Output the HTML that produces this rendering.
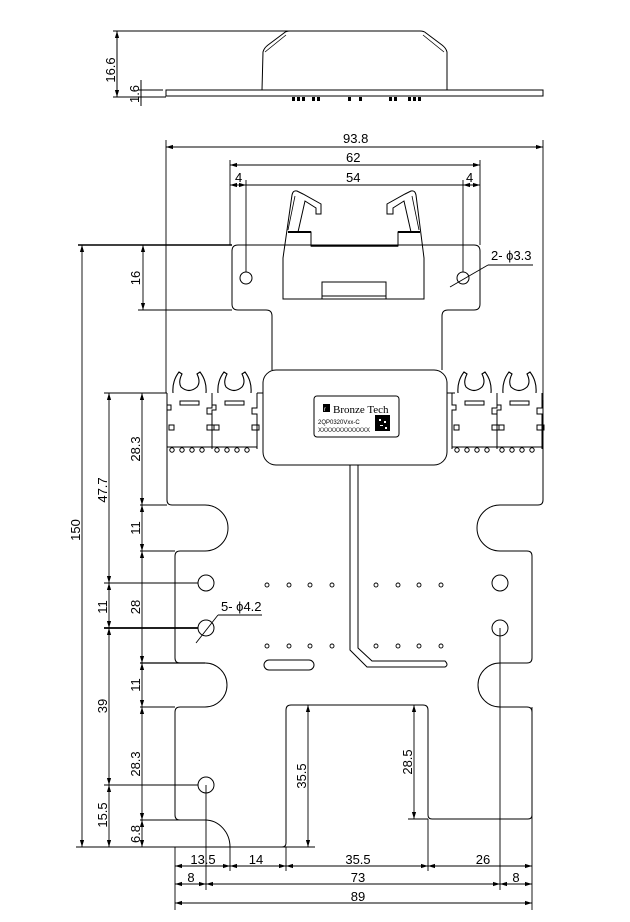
<!DOCTYPE html>
<html><head><meta charset="utf-8"><style>
html,body{margin:0;padding:0;background:#fff;}
svg{display:block;}
text{font-family:"Liberation Sans",Arial,sans-serif;font-size:13px;fill:#000;}
</style></head><body>
<svg width="630" height="922" viewBox="0 0 630 922" xmlns="http://www.w3.org/2000/svg">
<defs>
<marker id="a" viewBox="0 0 10 10" refX="10" refY="5" markerWidth="7" markerHeight="7" orient="auto-start-reverse" markerUnits="userSpaceOnUse"><path d="M0,2 L10,5 L0,8z" fill="#000"/></marker>
<g id="cu" fill="none" stroke="#000" stroke-width="1">
<path d="M6,393 Q5,381 12,372 L15,374 Q11,382 14,387 Q22,394 30,387 Q34,382 30,374 L33,372 Q40,381 39,393" stroke-width="1.1"/>
<rect x="13" y="401" width="19" height="4"/>
<path d="M0,393 V405 H4 V410 H0 V449"/>
<path d="M45,393 V408 H40 V414 H45 V449"/>
<rect x="2" y="425" width="5" height="5"/>
<rect x="40" y="425" width="7" height="5"/>
<line x1="0" y1="447" x2="45" y2="447"/>
<circle cx="5" cy="450" r="2.2"/><circle cx="15" cy="450" r="2.2"/><circle cx="25" cy="450" r="2.2"/><circle cx="35" cy="450" r="2.2"/>
</g>
</defs>

<g fill="none" stroke="#000" stroke-width="1">
<!-- ===== TOP SIDE VIEW ===== -->
<rect x="166" y="90" width="377" height="6"/>
<path d="M262,90 L263,52 Q264,48 268,45 L284,33 Q286,31 290,31 L420,31 Q424,31 426,33 L442,45 Q446,48 447,52 L447,90"/>
<path d="M265,52 L286,35 M444,52 L423,35" stroke-width="0.8"/>
<line x1="113" y1="31" x2="290" y2="31"/>
<line x1="113" y1="97" x2="166" y2="97"/>
<line x1="138" y1="90" x2="163" y2="90"/>
<line x1="117" y1="31" x2="117" y2="97" marker-start="url(#a)" marker-end="url(#a)"/>
<line x1="141" y1="80" x2="141" y2="106"/>
<g fill="#000" stroke="none">
<rect x="292" y="97" width="3" height="4"/><rect x="297" y="97" width="3" height="4"/><rect x="302" y="97" width="3" height="4"/>
<rect x="312" y="97" width="3" height="4"/><rect x="317" y="97" width="3" height="4"/>
<rect x="348" y="97" width="3" height="4"/><rect x="359" y="97" width="3" height="4"/>
<rect x="389" y="97" width="3" height="4"/><rect x="394" y="97" width="3" height="4"/>
<rect x="408" y="97" width="3" height="4"/><rect x="413" y="97" width="3" height="4"/><rect x="418" y="97" width="3" height="4"/>
</g>

<!-- ===== BOARD OUTLINE ===== -->
<path d="M238,245 H474 Q480,245 480,251 V304 Q480,310 474,310 H448 Q442,310 442,316 V370
M272,370 V316 Q272,310 266,310 H238 Q232,310 232,304 V251 Q232,245 238,245"/>
<path d="M167,393 V500 Q167,505 172,505 H205 A23,23 0 0 1 205,551 H180 Q175,551 175,556 V658 Q175,663 180,663 H205 A22,22 0 0 1 205,707 H180 Q175,707 175,712 V815 Q175,820 180,820 H205 A25,27 0 0 1 230,847 H282 Q286,847 286,843 V710 Q286,705 291,705 H423 Q428,705 428,710 V815 Q428,819 432,819 H528 Q532,819 532,815 V712 Q532,707 527,707 H500 A22,22 0 0 1 500,663 H527 Q532,663 532,658 V556 Q532,551 527,551 H500 A23,23 0 0 1 500,505 H538 Q543,505 543,500 V400"/>
<line x1="257" y1="393" x2="263" y2="393"/><line x1="447" y1="393" x2="455" y2="393"/>

<!-- top DIN clip connector -->
<path d="M283,299 V258 L292,195 Q293,190 297,191 L303,194 L321,204 V214 H316 V208 L305,201 L298,232 H311 V246 H398 V232 H411 L404,201 L393,208 V214 H387 V204 L405,194 L411,191 Q415,190 416,195 L424,258 V299 Z"/>
<path d="M288,230 L295,196 M419,230 L412,196" stroke-width="0.8"/>
<line x1="288" y1="232" x2="311" y2="232" stroke-width="2"/><line x1="398" y1="232" x2="420" y2="232" stroke-width="2"/>
<line x1="311" y1="246" x2="398" y2="246" stroke-width="1.5"/>
<rect x="322" y="282" width="64" height="17"/><line x1="322" y1="296" x2="386" y2="296"/>

<!-- side connectors -->
<use href="#cu" x="167"/><use href="#cu" x="212"/>
<use href="#cu" x="452"/><use href="#cu" x="497"/>

<!-- center housing -->
<rect x="263" y="370" width="184" height="95" rx="13"/>
<rect x="314" y="396" width="85" height="41" rx="3"/>
<path d="M350,465 V650 L367,667 H445 Q449,665 445,661 H372 L358,648 V465"/>

<!-- holes -->
<circle cx="246" cy="278" r="6"/><circle cx="463" cy="278" r="6"/>
<circle cx="206" cy="583" r="8"/><circle cx="206" cy="628" r="8"/><circle cx="206" cy="785" r="8"/>
<circle cx="500" cy="583" r="8"/><circle cx="500" cy="628" r="8"/>
<g stroke-width="0.9">
<circle cx="267" cy="585" r="2"/><circle cx="289" cy="585" r="2"/><circle cx="310" cy="585" r="2"/><circle cx="332" cy="585" r="2"/>
<circle cx="376" cy="585" r="2"/><circle cx="398" cy="585" r="2"/><circle cx="419" cy="585" r="2"/><circle cx="441" cy="585" r="2"/>
<circle cx="267" cy="646" r="2"/><circle cx="289" cy="646" r="2"/><circle cx="310" cy="646" r="2"/><circle cx="332" cy="646" r="2"/>
<circle cx="376" cy="646" r="2"/><circle cx="398" cy="646" r="2"/><circle cx="419" cy="646" r="2"/><circle cx="441" cy="646" r="2"/>
</g>
<rect x="264" y="660" width="50" height="10" rx="5"/>

<!-- ===== DIMENSIONS ===== -->
<g stroke-width="0.9">
<line x1="166" y1="140" x2="166" y2="393"/><line x1="543" y1="140" x2="543" y2="400"/>
<line x1="166" y1="147" x2="543" y2="147" marker-start="url(#a)" marker-end="url(#a)"/>
<line x1="230" y1="160" x2="230" y2="245"/><line x1="480" y1="160" x2="480" y2="245"/>
<line x1="230" y1="165" x2="480" y2="165" marker-start="url(#a)" marker-end="url(#a)"/>
<line x1="246" y1="180" x2="246" y2="272"/><line x1="463" y1="180" x2="463" y2="272"/>
<line x1="246" y1="185" x2="463" y2="185"/>
<line x1="230" y1="185" x2="246" y2="185" marker-start="url(#a)" marker-end="url(#a)"/>
<line x1="463" y1="185" x2="480" y2="185" marker-start="url(#a)" marker-end="url(#a)"/>
<line x1="450" y1="287" x2="488" y2="265"/><line x1="488" y1="265" x2="533" y2="265"/>

<line x1="78" y1="245" x2="232" y2="245" stroke-width="1.6"/>
<line x1="138" y1="310" x2="232" y2="310"/>
<line x1="143" y1="245" x2="143" y2="310" marker-start="url(#a)" marker-end="url(#a)"/>
<line x1="82" y1="245" x2="82" y2="847" marker-start="url(#a)" marker-end="url(#a)"/>
<line x1="76" y1="847" x2="315" y2="847"/>
<line x1="104" y1="393" x2="167" y2="393"/>
<line x1="140" y1="505" x2="167" y2="505"/>
<line x1="140" y1="551" x2="175" y2="551"/>
<line x1="104" y1="583" x2="198" y2="583"/>
<line x1="104" y1="628" x2="198" y2="628" stroke-width="1.8"/>
<line x1="140" y1="663" x2="205" y2="663" stroke-width="1.3"/>
<line x1="140" y1="707" x2="175" y2="707"/>
<line x1="104" y1="785" x2="198" y2="785"/>
<line x1="140" y1="820" x2="205" y2="820"/>
<line x1="109" y1="393" x2="109" y2="583" marker-start="url(#a)" marker-end="url(#a)"/>
<line x1="109" y1="583" x2="109" y2="628" marker-start="url(#a)" marker-end="url(#a)"/>
<line x1="109" y1="628" x2="109" y2="785" marker-start="url(#a)" marker-end="url(#a)"/>
<line x1="109" y1="785" x2="109" y2="847" marker-start="url(#a)" marker-end="url(#a)"/>
<line x1="142" y1="393" x2="142" y2="505" marker-start="url(#a)" marker-end="url(#a)"/>
<line x1="142" y1="505" x2="142" y2="551" marker-start="url(#a)" marker-end="url(#a)"/>
<line x1="142" y1="551" x2="142" y2="663" marker-start="url(#a)" marker-end="url(#a)"/>
<line x1="142" y1="663" x2="142" y2="707" marker-start="url(#a)" marker-end="url(#a)"/>
<line x1="142" y1="707" x2="142" y2="820" marker-start="url(#a)" marker-end="url(#a)"/>
<line x1="142" y1="820" x2="142" y2="847" marker-start="url(#a)" marker-end="url(#a)"/>
<line x1="218" y1="615" x2="262" y2="615"/><line x1="218" y1="615" x2="196" y2="643"/>

<line x1="308" y1="705" x2="308" y2="847" marker-start="url(#a)" marker-end="url(#a)"/>
<line x1="408" y1="819" x2="428" y2="819"/>
<line x1="414" y1="705" x2="414" y2="819" marker-start="url(#a)" marker-end="url(#a)"/>

<line x1="175" y1="847" x2="175" y2="910"/><line x1="206" y1="785" x2="206" y2="890"/>
<line x1="230" y1="847" x2="230" y2="871"/><line x1="286" y1="847" x2="286" y2="871"/>
<line x1="428" y1="819" x2="428" y2="871"/><line x1="500" y1="628" x2="500" y2="890"/>
<line x1="532" y1="707" x2="532" y2="910"/>
<line x1="175" y1="866" x2="230" y2="866" marker-start="url(#a)" marker-end="url(#a)"/>
<line x1="230" y1="866" x2="286" y2="866" marker-start="url(#a)" marker-end="url(#a)"/>
<line x1="286" y1="866" x2="428" y2="866" marker-start="url(#a)" marker-end="url(#a)"/>
<line x1="428" y1="866" x2="532" y2="866" marker-start="url(#a)" marker-end="url(#a)"/>
<line x1="175" y1="884" x2="206" y2="884" marker-start="url(#a)" marker-end="url(#a)"/>
<line x1="206" y1="884" x2="500" y2="884" marker-start="url(#a)" marker-end="url(#a)"/>
<line x1="500" y1="884" x2="532" y2="884" marker-start="url(#a)" marker-end="url(#a)"/>
<line x1="175" y1="903" x2="532" y2="903" marker-start="url(#a)" marker-end="url(#a)"/>
</g>
</g>

<!-- label content -->
<rect x="323" y="404" width="7" height="8" fill="#000"/>
<text x="324" y="411" style="font-size:6px;fill:#fff">r</text>
<text x="333" y="413" style="font-family:'Liberation Serif',serif;font-size:11px">Bronze Tech</text>
<text x="318" y="424" style="font-size:6px">2QP0320Vxx-C</text>
<text x="318" y="432" style="font-size:6px">XXXXXXXXXXXXX</text>
<rect x="375" y="415" width="15" height="16" fill="#000"/>
<path d="M379,419h2v2h-2zM384,421h2v2h-2zM380,425h3v1h-3zM385,427h2v2h-2z" fill="#fff"/>

<!-- dimension text -->
<text x="343" y="143">93.8</text>
<text x="346" y="162">62</text>
<text x="346" y="182">54</text>
<text x="235" y="182">4</text>
<text x="466" y="182">4</text>
<text x="491" y="260">2- ϕ3.3</text>
<text x="221" y="611">5- ϕ4.2</text>
<text transform="translate(115,70) rotate(-90)" text-anchor="middle">16.6</text>
<text transform="translate(139,94) rotate(-90)" text-anchor="middle">1.6</text>
<text transform="translate(140,278) rotate(-90)" text-anchor="middle">16</text>
<text transform="translate(80,530) rotate(-90)" text-anchor="middle">150</text>
<text transform="translate(107,490) rotate(-90)" text-anchor="middle">47.7</text>
<text transform="translate(107,607) rotate(-90)" text-anchor="middle">11</text>
<text transform="translate(107,706) rotate(-90)" text-anchor="middle">39</text>
<text transform="translate(107,815) rotate(-90)" text-anchor="middle">15.5</text>
<text transform="translate(140,449) rotate(-90)" text-anchor="middle">28.3</text>
<text transform="translate(140,528) rotate(-90)" text-anchor="middle">11</text>
<text transform="translate(140,607) rotate(-90)" text-anchor="middle">28</text>
<text transform="translate(140,685) rotate(-90)" text-anchor="middle">11</text>
<text transform="translate(140,764) rotate(-90)" text-anchor="middle">28.3</text>
<text transform="translate(140,834) rotate(-90)" text-anchor="middle">6.8</text>
<text transform="translate(306,776) rotate(-90)" text-anchor="middle">35.5</text>
<text transform="translate(412,762) rotate(-90)" text-anchor="middle">28.5</text>
<text x="203" y="864" text-anchor="middle">13.5</text>
<text x="256" y="864" text-anchor="middle">14</text>
<text x="358" y="864" text-anchor="middle">35.5</text>
<text x="483" y="864" text-anchor="middle">26</text>
<text x="191" y="882" text-anchor="middle">8</text>
<text x="358" y="882" text-anchor="middle">73</text>
<text x="516" y="882" text-anchor="middle">8</text>
<text x="358" y="901" text-anchor="middle">89</text>
</svg>
</body></html>
